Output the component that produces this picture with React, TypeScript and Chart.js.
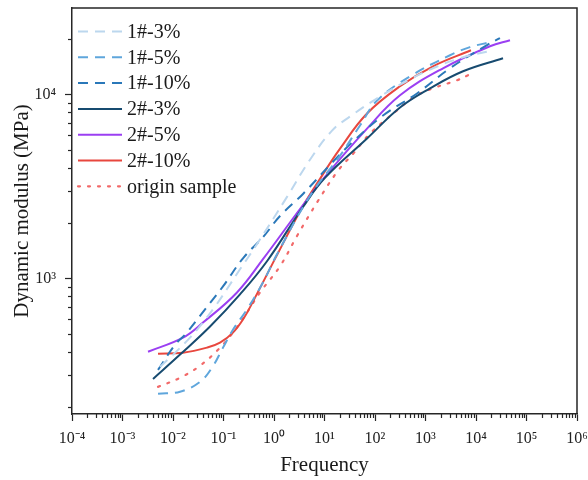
import React, { useEffect, useRef } from "react";
import { Chart, registerables } from "chart.js";

Chart.register(...registerables);

// ---- data (frequency in Hz, dynamic modulus in MPa) ----
const freq13 = [0.00553, 0.0217, 0.0619, 0.212, 0.46, 1.81, 5.16, 14.1, 32, 126, 493, 1409, 4820, 21700];
const mod13 = [330, 476, 678, 1120, 1535, 2773, 4416, 6353, 7586, 9750, 12080, 13870, 15740, 17380];

const freq15 = [0.00505, 0.0138, 0.0343, 0.0592, 0.0977, 0.154, 0.292, 0.605, 1.146, 5.16, 20.3, 50.5, 110, 493, 3055, 7600, 18900];
const mod15 = [236, 242, 274, 327, 420, 526, 678, 951, 1352, 2805, 4645, 6776, 9268, 12530, 16330, 18070, 19230];

const freq110 = [0.00505, 0.011, 0.0173, 0.0431, 0.0977, 0.243, 0.605, 1.315, 3.75, 14.7, 36.6, 144, 679, 3055, 16500, 29800];
const mod110 = [318, 436, 494, 678, 904, 1285, 1675, 2183, 2877, 4305, 5534, 7674, 10120, 13870, 18540, 20230];

const freq23 = [0.00402, 0.0138, 0.0541, 0.212, 0.726, 3.75, 10.2, 69.5, 313, 1227, 5540, 34300];
const mod23 = [284, 385, 547, 818, 1239, 2443, 3516, 5754, 8492, 10790, 13370, 15740];

const freq25 = [0.0032, 0.0158, 0.0393, 0.185, 0.605, 3.27, 10.2, 69.5, 313, 2223, 18900, 47100];
const mod25 = [399, 476, 575, 838, 1271, 2382, 3565, 6516, 9886, 13870, 18280, 19720];

const freq210 = [0.00505, 0.0158, 0.0471, 0.0853, 0.154, 0.243, 0.384, 1.2, 3.75, 8.15, 20.3, 69.5, 313, 1409, 7960];
const mod210 = [389, 394, 420, 447, 507, 597, 748, 1371, 2472, 3475, 5070, 7870, 11070, 14220, 17380];

const freqOrigin = [0.00505, 0.0138, 0.0343, 0.0778, 0.154, 0.292, 0.528, 1.315, 2.85, 7.43, 18.5, 40.2, 79.6, 273, 619, 1409, 4207, 6950];
const modOrigin = [257, 288, 335, 409, 507, 652, 838, 1164, 1698, 2636, 3846, 4887, 6124, 8185, 9750, 10790, 11940, 12710];

const seriesLabels = ["1#-3%", "1#-5%", "1#-10%", "2#-3%", "2#-5%", "2#-10%", "origin sample"];

const xMin = 1e-4;
const xMax = 1e6;
const yMin = 183;
const yMax = 29500;

// ---- helpers ----
const SUP: Record<string, string> = {
  "-": "\u207B", "0": "\u2070", "1": "\u00B9", "2": "\u00B2", "3": "\u00B3",
  "4": "\u2074", "5": "\u2075", "6": "\u2076", "7": "\u2077", "8": "\u2078", "9": "\u2079",
};
const supText = (n: number) => String(n).split("").map((c) => SUP[c] || c).join("");
const isPow10 = (v: number) => {
  const e = Math.round(Math.log10(v));
  return Math.abs(v - Math.pow(10, e)) / Math.pow(10, e) < 1e-6;
};
const logTicks = (min: number, max: number) => {
  const out: number[] = [];
  const e0 = Math.floor(Math.log10(min));
  const e1 = Math.ceil(Math.log10(max));
  for (let e = e0; e <= e1; e++) {
    for (let m = 1; m <= 9; m++) {
      const v = parseFloat((m * Math.pow(10, e)).toPrecision(6));
      if (v >= min * (1 - 1e-9) && v <= max * (1 + 1e-9)) out.push(v);
    }
  }
  return out;
};
const pts = (xs: number[], ys: number[]) => xs.map((x, i) => ({ x, y: ys[i] }));

const SERIF = '"Liberation Serif", "Times New Roman", serif';
const AXIS_COLOR = "#262626";

const framePlugin = {
  id: "frameAndLegend",
  afterDraw(chart: any) {
    const { ctx, chartArea } = chart;
    const { left, right, top, bottom } = chartArea;
    ctx.save();
    // frame (top + right)
    ctx.strokeStyle = AXIS_COLOR;
    ctx.lineWidth = 1.5;
    ctx.beginPath();
    ctx.moveTo(left, top);
    ctx.lineTo(right, top);
    ctx.lineTo(right, bottom);
    ctx.stroke();
    // minor ticks
    ctx.lineWidth = 1.2;
    const xs = chart.scales.x;
    const ys = chart.scales.y;
    xs.ticks.forEach((t: any) => {
      if (isPow10(t.value)) return;
      const px = Math.round(xs.getPixelForValue(t.value)) + 0.5;
      ctx.beginPath();
      ctx.moveTo(px, bottom);
      ctx.lineTo(px, bottom + 4);
      ctx.stroke();
    });
    ys.ticks.forEach((t: any) => {
      if (isPow10(t.value)) return;
      const py = Math.round(ys.getPixelForValue(t.value)) + 0.5;
      ctx.beginPath();
      ctx.moveTo(left, py);
      ctx.lineTo(left - 4, py);
      ctx.stroke();
    });
    // legend inside plot area, top-left
    chart.data.datasets.forEach((ds: any, i: number) => {
      const y = top + 23.5 + i * 25.8;
      const x0 = left + 6;
      ctx.strokeStyle = ds.borderColor;
      ctx.lineWidth = ds.borderWidth;
      ctx.setLineDash(ds.borderDash || []);
      ctx.lineCap = ds.borderCapStyle || "butt";
      ctx.beginPath();
      ctx.moveTo(x0, y);
      ctx.lineTo(x0 + 44, y);
      ctx.stroke();
      ctx.setLineDash([]);
      ctx.fillStyle = "#1a1a1a";
      ctx.font = `20px ${SERIF}`;
      ctx.textBaseline = "middle";
      ctx.textAlign = "left";
      ctx.fillText(ds.label, x0 + 49, y + 1);
    });
    ctx.restore();
  },
};

const zeroPad = (scale: any) => {
  scale.paddingTop = 0;
  scale.paddingBottom = 0;
  scale.paddingLeft = 0;
  scale.paddingRight = 0;
};

export default function App() {
  const canvasRef = useRef<HTMLCanvasElement | null>(null);

  useEffect(() => {
    if (!canvasRef.current) return;
    const dashed = [10, 7];
    const mk = (i: number, xs: number[], ys: number[], color: string, dash: number[], width = 2, cap = "butt") => ({
      label: seriesLabels[i],
      data: pts(xs, ys),
      borderColor: color,
      backgroundColor: color,
      borderWidth: width,
      borderDash: dash,
      borderCapStyle: cap,
      pointRadius: 0,
      fill: false,
      tension: 0.4,
      cubicInterpolationMode: "default",
    });
    const chart = new Chart(canvasRef.current, {
      type: "line",
      data: {
        datasets: [
          mk(0, freq13, mod13, "#bcd7ee", dashed),
          mk(1, freq15, mod15, "#5fa6dc", dashed),
          mk(2, freq110, mod110, "#2a78b9", dashed),
          mk(3, freq23, mod23, "#174b70", [], 2),
          mk(4, freq25, mod25, "#9b3ff2", [], 2),
          mk(5, freq210, mod210, "#e8473e", [], 2),
          mk(6, freqOrigin, modOrigin, "#f26a6a", [2, 8], 2.2, "round"),
        ] as any,
      },
      options: {
        animation: false,
        responsive: true,
        maintainAspectRatio: false,
        layout: { padding: { top: 8, right: 11, left: 0, bottom: 0 } },
        plugins: {
          legend: { display: false },
          tooltip: { enabled: false },
        },
        scales: {
          x: {
            type: "logarithmic",
            position: "bottom",
            min: xMin,
            max: xMax,
            afterBuildTicks: (scale: any) => {
              scale.ticks = logTicks(xMin, xMax).map((v) => ({ value: v }));
            },
            afterFit: (scale: any) => {
              scale.height = 66;
              zeroPad(scale);
            },
            border: { display: true, color: AXIS_COLOR, width: 1.5 },
            grid: {
              display: true,
              drawOnChartArea: false,
              drawTicks: true,
              tickLength: 7,
              tickWidth: 1.2,
              tickColor: (c: any) => (c.tick && isPow10(c.tick.value) ? AXIS_COLOR : "rgba(0,0,0,0)"),
            },
            ticks: {
              autoSkip: false,
              maxRotation: 0,
              minRotation: 0,
              padding: 8,
              color: "#222",
              font: { family: SERIF, size: 16 },
              callback: (v: any) => {
                const n = Number(v);
                return isPow10(n) ? "10" + supText(Math.round(Math.log10(n))) : "";
              },
            },
            title: {
              display: true,
              text: "Frequency",
              color: "#1a1a1a",
              font: { family: SERIF, size: 21 },
              padding: { top: 0, bottom: 2 },
            },
          },
          y: {
            type: "logarithmic",
            position: "left",
            min: yMin,
            max: yMax,
            afterBuildTicks: (scale: any) => {
              scale.ticks = logTicks(yMin, yMax).map((v) => ({ value: v }));
            },
            afterFit: (scale: any) => {
              scale.width = 72;
              zeroPad(scale);
            },
            border: { display: true, color: AXIS_COLOR, width: 1.5 },
            grid: {
              display: true,
              drawOnChartArea: false,
              drawTicks: true,
              tickLength: 7,
              tickWidth: 1.2,
              tickColor: (c: any) => (c.tick && isPow10(c.tick.value) ? AXIS_COLOR : "rgba(0,0,0,0)"),
            },
            ticks: {
              autoSkip: false,
              padding: 9,
              color: "#222",
              font: { family: SERIF, size: 16 },
              callback: (v: any) => {
                const n = Number(v);
                return isPow10(n) ? "10" + supText(Math.round(Math.log10(n))) : "";
              },
            },
            title: {
              display: true,
              text: "Dynamic modulus (MPa)",
              color: "#1a1a1a",
              font: { family: SERIF, size: 21 },
              padding: { top: 10, bottom: 0 },
            },
          },
        },
      } as any,
      plugins: [framePlugin],
    });
    return () => chart.destroy();
  }, []);

  return (
    <div style={{ position: "absolute", left: 0, top: 0, width: 588, height: 480, background: "#fff" }}>
      <canvas ref={canvasRef} />
    </div>
  );
}
